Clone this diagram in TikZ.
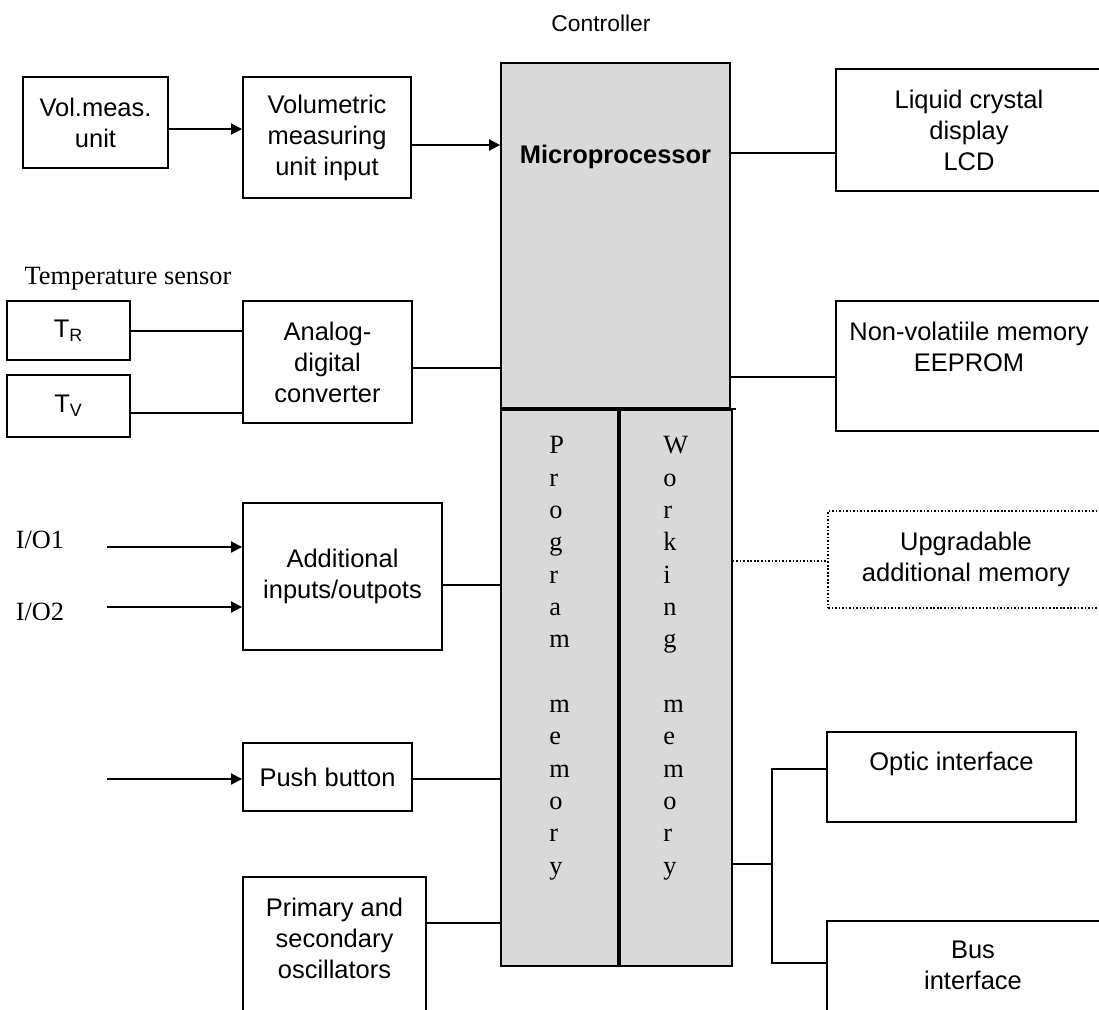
\documentclass[tikz,border=0pt]{standalone}
\usepackage{fontspec}
\setmainfont{Liberation Serif}
\setsansfont{Liberation Sans}
\usepackage{tikz}
\usetikzlibrary{arrows.meta}
\usetikzlibrary{positioning}

\begin{document}
\begin{tikzpicture}[x=0.02cm,y=-0.02cm,line width=1.1pt,
  >={Triangle[length=0.22cm,width=0.22cm]},
  block/.style={draw,rectangle,inner sep=0pt,align=center,font=\sffamily\fontsize{14.5}{17.6}\selectfont},
  dotbox/.style={block,line width=0.9pt,dash pattern=on 0.9pt off 1.1pt},
  cpu/.style={draw,fill=black!15,inner sep=0pt,font=\sffamily\bfseries\fontsize{14.5}{17.6}\selectfont},
  letters/.style={draw,fill=black!15,inner sep=0pt,align=left,minimum height=11.12cm,font=\rmfamily\fontsize{15}{18.4}\selectfont},
  plain/.style={inner sep=0pt,font=\rmfamily\fontsize{15}{18}\selectfont}]

  \path[use as bounding box,clip] (0,0) rectangle (1099,1009);

  \node[inner sep=0pt,font=\sffamily\fontsize{13}{16}\selectfont] (ctrl) at (601,23) {Controller};

  \node[cpu,minimum width=4.58cm,text height=2.02cm,text depth=4.88cm,anchor=north] (micro) at (615.5,62) {Microprocessor};
  \node[letters,minimum width=2.34cm,anchor=north west] (progmem) at (micro.south west)
    {P\\r\\o\\g\\r\\a\\m\\\mbox{}\\m\\e\\m\\o\\r\\y\\\mbox{}\\\mbox{}};
  \node[letters,minimum width=2.24cm,anchor=north west] (workmem) at (progmem.north east)
    {W\\o\\r\\k\\i\\n\\g\\\mbox{}\\m\\e\\m\\o\\r\\y\\\mbox{}\\\mbox{}};
  \draw (micro.south east) -- ++(5,0);

  \node[block,minimum width=2.9cm,minimum height=1.82cm] (vol) at (95.5,122.5) {Vol.meas.\\unit};
  \node[block,minimum width=3.36cm,minimum height=2.42cm] (volin) at (327,137.5) {Volumetric\\measuring\\unit input};

  \node[plain] (tsens) at (128,279) {Temperature sensor};
  \node[block,minimum width=2.46cm,minimum height=1.18cm] (tr) at (68.5,330.5) {T\textsubscript{R}};
  \node[block,minimum width=2.46cm,minimum height=1.24cm] (tv) at (68.5,406) {T\textsubscript{V}};
  \node[block,minimum width=3.38cm,minimum height=2.44cm] (adc) at (327.5,362) {Analog-\\digital\\converter};

  \node[plain] (iolab1) at (40,540) {I/O1};
  \node[plain] (iolab2) at (40,612) {I/O2};
  \coordinate (io1) at (107,547);
  \coordinate (io2) at (107,607);
  \node[block,minimum width=3.98cm,minimum height=2.94cm] (add) at (342.5,576.5) {Additional\\inputs/outpots};

  \coordinate (pbin) at (107,779);
  \node[block,minimum width=3.38cm,minimum height=1.36cm] (push) at (327.5,777) {Push button};
  \node[block,minimum width=3.66cm,minimum height=3.08cm] (osc) at (334.5,954) {Primary and\\secondary\\oscillators\\\mbox{}};

  \node[block,minimum width=5.32cm,minimum height=2.44cm] (lcd) at (969,130) {Liquid crystal\\display\\LCD};
  \node[block,minimum width=5.32cm,minimum height=2.6cm] (eeprom) at (969,366) {Non-volatiile memory\\EEPROM\\[4pt]\mbox{}};
  \node[dotbox,minimum width=5.52cm,minimum height=1.94cm] (upg) at (966,559.5) {Upgradable\\additional memory};
  \node[block,minimum width=4.98cm,minimum height=1.8cm] (optic) at (951.5,777) {Optic interface\\\mbox{}};
  \node[block,minimum width=5.84cm,minimum height=2.4cm] (bus) at (973,981) {Bus\\interface\\\mbox{}};
  \coordinate (split) at (772,864);

  \path[->]
    (vol.east |- 0,129) edge (volin.west |- 0,129)
    (volin.east |- 0,145) edge (micro.west |- 0,145)
    (io1) edge (add.west |- io1)
    (io2) edge (add.west |- io2)
    (pbin) edge (push.west |- pbin);

  \path
    (tr.east |- 0,331) edge (adc.west |- 0,331)
    (tv.east |- 0,413) edge (adc.west |- 0,413)
    (adc.east |- 0,368) edge (micro.west |- 0,368)
    (add.east |- 0,585) edge (progmem.west |- 0,585)
    (push.east |- 0,779) edge (progmem.west |- 0,779)
    (osc.east |- 0,923) edge (progmem.west |- 0,923)
    (micro.east |- 0,153) edge (lcd.west |- 0,153)
    (micro.east |- 0,377) edge (eeprom.west |- 0,377)
    (workmem.east |- 0,864) edge (split);

  \draw[line width=0.9pt,dash pattern=on 0.9pt off 1.1pt] (workmem.east |- 0,561) -- (upg.west |- 0,561);
  \draw (optic.west |- 0,769) -| (split) |- (bus.west |- 0,963);
\end{tikzpicture}
\end{document}
